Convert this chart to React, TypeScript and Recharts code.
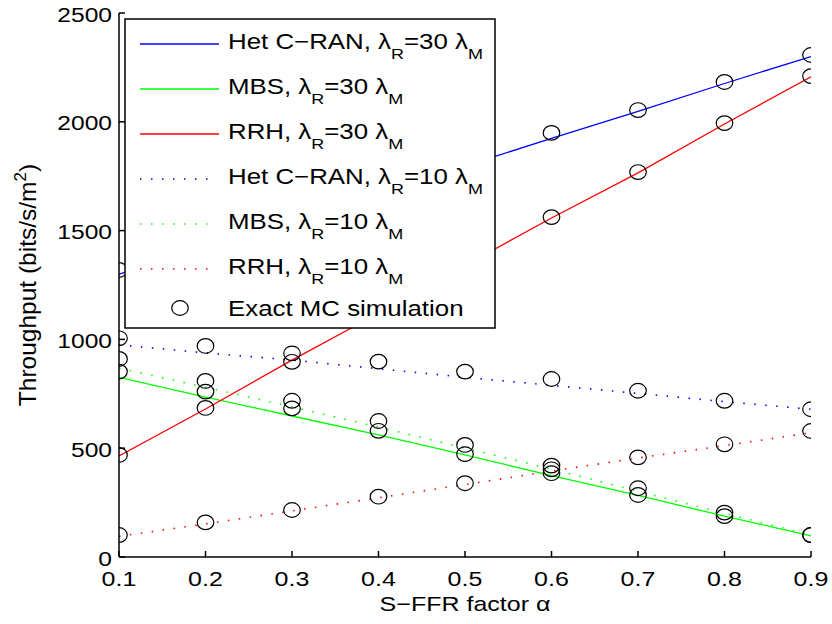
import { ComposedChart, Line, Scatter, XAxis, YAxis, Label } from 'recharts';

const FONT = '"Liberation Sans", Arial, Helvetica, sans-serif';

// S-FFR factor alpha
const alpha = [0.1, 0.2, 0.3, 0.4, 0.5, 0.6, 0.7, 0.8, 0.9];
const yTicks = [0, 500, 1000, 1500, 2000, 2500];

// analytical curves
const hetCran30 = [1300, 1425, 1548, 1672, 1797, 1924, 2048, 2176, 2300];
const mbs30 = [826, 735, 648, 561, 469, 374, 283, 188, 97];
const rrh30 = [464, 680, 905, 1120, 1340, 1558, 1765, 1990, 2207];
const hetCran10 = [975, 938, 905, 865, 826, 789, 752, 714, 679];
const mbs10 = [868, 780, 690, 597, 501, 404, 302, 201, 101];
const rrh10 = [95, 152, 212, 272, 333, 395, 455, 512, 571];

// Monte Carlo simulation points
const simHet30 = [1319, 1435, 1560, 1685, 1815, 1949, 2054, 2183, 2307];
const simMbs30 = [852, 760, 683, 580, 473, 385, 285, 188, 101];
const simRrh30 = [469, 685, 897, 1125, 1345, 1562, 1769, 1994, 2210];
const simHet10 = [1005, 970, 936, 898, 852, 818, 764, 718, 679];
const simMbs10 = [910, 809, 718, 625, 515, 420, 316, 204, 101];
const simRrh10 = [101, 159, 216, 277, 339, 403, 458, 518, 579];

const data = alpha.map((a, i) => ({
  alpha: a,
  hetCran30: hetCran30[i],
  mbs30: mbs30[i],
  rrh30: rrh30[i],
  hetCran10: hetCran10[i],
  mbs10: mbs10[i],
  rrh10: rrh10[i],
  simHet30: simHet30[i],
  simMbs30: simMbs30[i],
  simRrh30: simRrh30[i],
  simHet10: simHet10[i],
  simMbs10: simMbs10[i],
  simRrh10: simRrh10[i],
}));

const lines = [
  { key: 'hetCran30', color: '#0000ff', dotted: false, name: 'Het C\u2212RAN, \u03bb', n: '30' },
  { key: 'mbs30', color: '#00ff00', dotted: false, name: 'MBS, \u03bb', n: '30' },
  { key: 'rrh30', color: '#ff0000', dotted: false, name: 'RRH, \u03bb', n: '30' },
  { key: 'hetCran10', color: '#0000ff', dotted: true, name: 'Het C\u2212RAN, \u03bb', n: '10' },
  { key: 'mbs10', color: '#00ff00', dotted: true, name: 'MBS, \u03bb', n: '10' },
  { key: 'rrh10', color: '#ff0000', dotted: true, name: 'RRH, \u03bb', n: '10' },
];
const simKeys = ['simHet30', 'simMbs30', 'simRrh30', 'simHet10', 'simMbs10', 'simRrh10'];

// the original font is wider than Arial, so text gets stretched along x
const XTick = (props: any) => (
  <text
    transform={`translate(${props.x},${props.y + 15}) scale(1.22,1)`}
    textAnchor="middle"
    fontSize={20.5}
    fontFamily={FONT}
    fill="#000"
  >
    {props.payload.value}
  </text>
);

const YTick = (props: any) => (
  <text
    transform={`translate(${props.x},${props.y + 8.5}) scale(1.2,1)`}
    textAnchor="end"
    fontSize={20.5}
    fontFamily={FONT}
    fill="#000"
  >
    {props.payload.value}
  </text>
);

const Ring = (props: any) => (
  <ellipse cx={props.cx} cy={props.cy} rx={8.3} ry={7.3} fill="none" stroke="#000" strokeWidth={1.2} />
);

function XTitle(props: any) {
  const cx = props.viewBox.x + props.viewBox.width / 2;
  return (
    <text
      transform={`translate(${cx},611) scale(1.22,1)`}
      textAnchor="middle"
      fontSize={20.5}
      fontFamily={FONT}
      fill="#000"
    >
      {'S\u2212FFR factor \u03b1'}
    </text>
  );
}

function YTitle(props: any) {
  const cy = props.viewBox.y + props.viewBox.height / 2;
  return (
    <text
      transform={`translate(36,${cy}) rotate(-90)`}
      textAnchor="middle"
      fontSize={24.5}
      fontFamily={FONT}
      fill="#000"
    >
      Throughput (bits/s/m
      <tspan dy={-10} fontSize={17}>2</tspan>
      <tspan dy={10}>)</tspan>
    </text>
  );
}

function LegendBox() {
  return (
    <svg width={832} height={624} style={{ position: 'absolute', left: 0, top: 0, pointerEvents: 'none' }}>
      <rect x={125} y={19} width={370} height={309} fill="#fff" stroke="#000" strokeWidth={1.5} />
      {lines.map((l, i) => {
        const cy = 44 + 45 * i;
        return (
          <g key={l.key}>
            <line
              x1={140}
              x2={l.dotted ? 212 : 219}
              y1={cy}
              y2={cy}
              stroke={l.color}
              strokeWidth={l.dotted ? 1.6 : 1.3}
              strokeDasharray={l.dotted ? '1.5 9.5' : undefined}
            />
            <text
              transform={`translate(228,${cy + 5}) scale(1.16,1)`}
              fontSize={22.3}
              fontFamily={FONT}
              fill="#000"
            >
              {l.name}
              <tspan dy={10} fontSize={15.5}>R</tspan>
              <tspan dy={-10}>{`=${l.n} \u03bb`}</tspan>
              <tspan dy={10} fontSize={15.5}>M</tspan>
            </text>
          </g>
        );
      })}
      <ellipse cx={180} cy={308} rx={8.3} ry={7.3} fill="none" stroke="#000" strokeWidth={1.2} />
      <text transform="translate(228,316) scale(1.16,1)" fontSize={22.3} fontFamily={FONT} fill="#000">
        Exact MC simulation
      </text>
    </svg>
  );
}

export default function App() {
  return (
    <div style={{ position: 'absolute', left: 0, top: 0, width: 832, height: 624, background: '#fff' }}>
      <ComposedChart width={832} height={624} data={data} margin={{ top: 13, right: 21, bottom: 0, left: 0 }}>
        <XAxis
          dataKey="alpha"
          type="number"
          domain={[0.1, 0.9]}
          ticks={alpha}
          allowDataOverflow
          height={67}
          stroke="#000"
          strokeWidth={1.5}
          tickSize={-6}
          tickMargin={20}
          tick={<XTick />}
        >
          <Label content={<XTitle />} />
        </XAxis>
        <XAxis
          xAxisId="top"
          orientation="top"
          type="number"
          domain={[0.1, 0.9]}
          ticks={alpha}
          allowDataOverflow
          height={0}
          stroke="#000"
          strokeWidth={1.5}
          tickSize={-6}
          tick={false}
        />
        <YAxis
          type="number"
          domain={[0, 2500]}
          ticks={yTicks}
          allowDataOverflow
          width={119}
          stroke="#000"
          strokeWidth={1.5}
          tickSize={-6}
          tickMargin={13}
          tick={<YTick />}
          label={<YTitle />}
        />
        <YAxis
          yAxisId="right"
          orientation="right"
          type="number"
          domain={[0, 2500]}
          ticks={yTicks}
          allowDataOverflow
          width={0}
          stroke="#000"
          strokeWidth={1.5}
          tickSize={-6}
          tick={false}
        />
        {lines.map((l) => (
          <Line
            key={l.key}
            dataKey={l.key}
            type="linear"
            stroke={l.color}
            strokeWidth={l.dotted ? 1.6 : 1.3}
            strokeDasharray={l.dotted ? '1.5 9.5' : undefined}
            dot={false}
            activeDot={false}
            isAnimationActive={false}
          />
        ))}
        {simKeys.map((k) => (
          <Scatter key={k} dataKey={k} shape={<Ring />} isAnimationActive={false} />
        ))}
      </ComposedChart>
      <LegendBox />
    </div>
  );
}
